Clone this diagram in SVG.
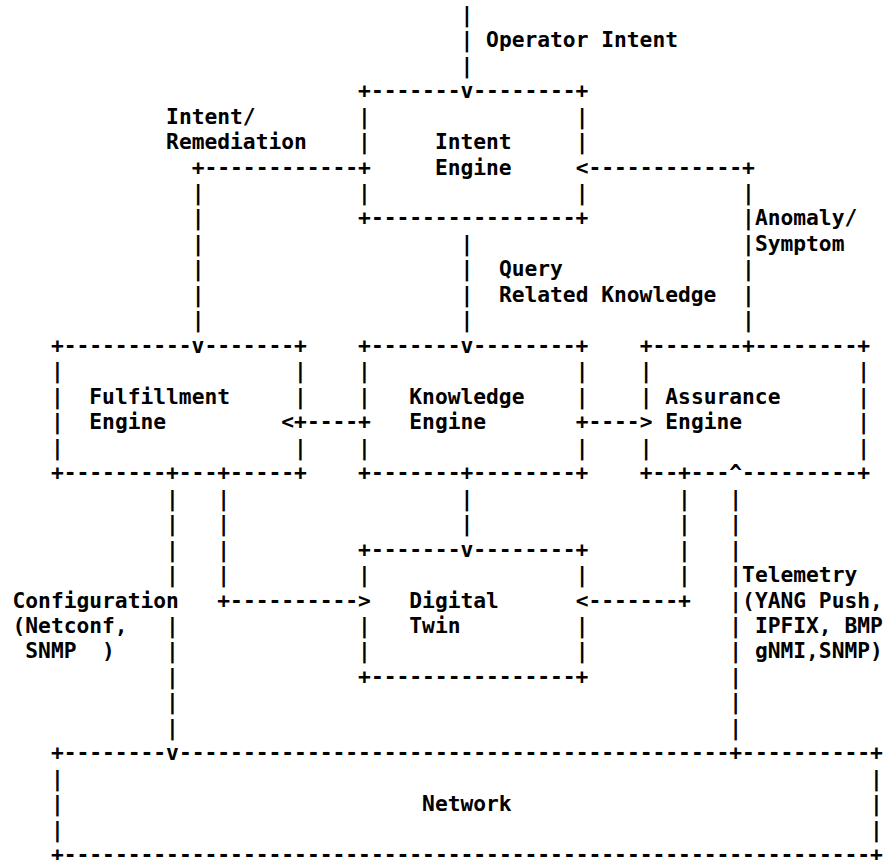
<svg xmlns="http://www.w3.org/2000/svg" width="888" height="860" viewBox="0 0 888 860">
<style>
text { font-family: "DejaVu Sans Mono", "Liberation Mono", monospace; font-weight: bold; font-size: 21.26px; fill: #000; white-space: pre; }
</style>
<rect width="888" height="860" fill="#fff"/>
<g id="connectors">
<text x="460.5" y="21.7">|</text>
<text x="460.5" y="47.17">|</text><text x="486.1" y="47.17">Operator Intent</text>
<text x="460.5" y="72.64">|</text>
<text x="166.1" y="123.58">Intent/</text>
<text x="166.1" y="149.05">Remediation</text>
<text x="191.7" y="174.52">+------------</text><text x="575.7" y="174.52">&lt;------------+</text>
<text x="191.7" y="199.99">|</text><text x="742.1" y="199.99">|</text>
<text x="191.7" y="225.46">|</text><text x="742.1" y="225.46">|Anomaly/</text>
<text x="191.7" y="250.93">|</text><text x="460.5" y="250.93">|</text><text x="742.1" y="250.93">|Symptom</text>
<text x="191.7" y="276.4">|</text><text x="460.5" y="276.4">|</text><text x="498.9" y="276.4">Query</text><text x="742.1" y="276.4">|</text>
<text x="191.7" y="301.87">|</text><text x="460.5" y="301.87">|</text><text x="498.9" y="301.87">Related Knowledge</text><text x="742.1" y="301.87">|</text>
<text x="191.7" y="327.34">|</text><text x="460.5" y="327.34">|</text><text x="742.1" y="327.34">|</text>
<text x="281.3" y="429.22">&lt;+----+</text><text x="575.7" y="429.22">+----&gt;</text>
<text x="166.1" y="505.63">|</text><text x="217.3" y="505.63">|</text><text x="460.5" y="505.63">|</text><text x="678.1" y="505.63">|</text><text x="729.3" y="505.63">|</text>
<text x="166.1" y="531.1">|</text><text x="217.3" y="531.1">|</text><text x="460.5" y="531.1">|</text><text x="678.1" y="531.1">|</text><text x="729.3" y="531.1">|</text>
<text x="166.1" y="556.57">|</text><text x="217.3" y="556.57">|</text><text x="678.1" y="556.57">|</text><text x="729.3" y="556.57">|</text>
<text x="166.1" y="582.04">|</text><text x="217.3" y="582.04">|</text><text x="678.1" y="582.04">|</text><text x="729.3" y="582.04">|Telemetry</text>
<text x="12.5" y="607.51">Configuration</text><text x="217.3" y="607.51">+----------&gt;</text><text x="575.7" y="607.51">&lt;-------+</text><text x="729.3" y="607.51">|(YANG Push,</text>
<text x="12.5" y="632.98">(Netconf,</text><text x="166.1" y="632.98">|</text><text x="729.3" y="632.98">|</text><text x="754.9" y="632.98">IPFIX, BMP</text>
<text x="25.3" y="658.45">SNMP</text><text x="102.1" y="658.45">)</text><text x="166.1" y="658.45">|</text><text x="729.3" y="658.45">|</text><text x="754.9" y="658.45">gNMI,SNMP)</text>
<text x="166.1" y="683.92">|</text><text x="729.3" y="683.92">|</text>
<text x="166.1" y="709.39">|</text><text x="729.3" y="709.39">|</text>
<text x="166.1" y="734.86">|</text><text x="729.3" y="734.86">|</text>
</g>
<g id="intent-engine">
<text x="358.1" y="98.11">+-------v--------+</text>
<text x="358.1" y="123.58">|</text><text x="575.7" y="123.58">|</text>
<text x="358.1" y="149.05">|</text><text x="434.9" y="149.05">Intent</text><text x="575.7" y="149.05">|</text>
<text x="358.1" y="174.52">+</text><text x="434.9" y="174.52">Engine</text>
<text x="358.1" y="199.99">|</text><text x="575.7" y="199.99">|</text>
<text x="358.1" y="225.46">+----------------+</text>
</g>
<g id="fulfillment-engine">
<text x="50.9" y="352.81">+----------v-------+</text>
<text x="50.9" y="378.28">|</text><text x="294.1" y="378.28">|</text>
<text x="50.9" y="403.75">|</text><text x="89.3" y="403.75">Fulfillment</text><text x="294.1" y="403.75">|</text>
<text x="50.9" y="429.22">|</text><text x="89.3" y="429.22">Engine</text>
<text x="50.9" y="454.69">|</text><text x="294.1" y="454.69">|</text>
<text x="50.9" y="480.16">+--------+---+-----+</text>
</g>
<g id="knowledge-engine">
<text x="358.1" y="352.81">+-------v--------+</text>
<text x="358.1" y="378.28">|</text><text x="575.7" y="378.28">|</text>
<text x="358.1" y="403.75">|</text><text x="409.3" y="403.75">Knowledge</text><text x="575.7" y="403.75">|</text>
<text x="409.3" y="429.22">Engine</text>
<text x="358.1" y="454.69">|</text><text x="575.7" y="454.69">|</text>
<text x="358.1" y="480.16">+-------+--------+</text>
</g>
<g id="assurance-engine">
<text x="639.7" y="352.81">+-------+--------+</text>
<text x="639.7" y="378.28">|</text><text x="857.3" y="378.28">|</text>
<text x="639.7" y="403.75">|</text><text x="665.3" y="403.75">Assurance</text><text x="857.3" y="403.75">|</text>
<text x="665.3" y="429.22">Engine</text><text x="857.3" y="429.22">|</text>
<text x="639.7" y="454.69">|</text><text x="857.3" y="454.69">|</text>
<text x="639.7" y="480.16">+--+---^---------+</text>
</g>
<g id="digital-twin">
<text x="358.1" y="556.57">+-------v--------+</text>
<text x="358.1" y="582.04">|</text><text x="575.7" y="582.04">|</text>
<text x="409.3" y="607.51">Digital</text>
<text x="358.1" y="632.98">|</text><text x="409.3" y="632.98">Twin</text><text x="575.7" y="632.98">|</text>
<text x="358.1" y="658.45">|</text><text x="575.7" y="658.45">|</text>
<text x="358.1" y="683.92">+----------------+</text>
</g>
<g id="network">
<text x="50.9" y="760.33">+--------v</text><text x="178.9" y="760.33" textLength="550.4" lengthAdjust="spacing">-------------------------------------------</text><text x="729.3" y="760.33">+----------+</text>
<text x="50.9" y="785.8">|</text><text x="870.1" y="785.8">|</text>
<text x="50.9" y="811.27">|</text><text x="422.1" y="811.27">Network</text><text x="870.1" y="811.27">|</text>
<text x="50.9" y="836.74">|</text><text x="870.1" y="836.74">|</text>
<text x="50.9" y="862.21">+</text><text x="63.7" y="862.21" textLength="806.4" lengthAdjust="spacing">---------------------------------------------------------------</text><text x="870.1" y="862.21">+</text>
</g>
</svg>
